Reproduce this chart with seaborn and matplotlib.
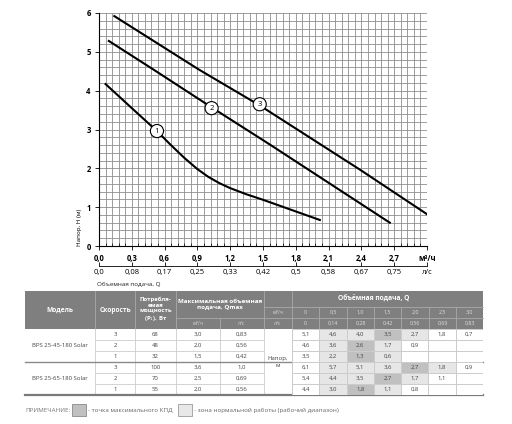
import numpy as np
import pandas as pd
import matplotlib
matplotlib.use("Agg")
import matplotlib.pyplot as plt
from matplotlib.patches import Rectangle
from matplotlib.colors import ListedColormap
import seaborn as sns

# pump curves: Q (m3/h) vs H (m)
q1 = [0.06, 0.30, 0.53, 0.65, 0.78, 0.90, 1.00, 1.10, 1.20, 1.35, 1.50, 1.65, 1.80, 1.92, 2.02]
h1 = [4.17, 3.55, 2.96, 2.62, 2.27, 1.98, 1.78, 1.62, 1.49, 1.33, 1.19, 1.04, 0.89, 0.77, 0.67]
q2 = [0.09, 0.50, 1.03, 1.57, 2.66]
h2 = [5.28, 4.54, 3.57, 2.60, 0.60]
q3 = [0.14, 0.91, 1.47, 2.39, 3.01]
h3 = [5.92, 4.55, 3.62, 1.96, 0.80]
curve_labels = ["1", "2", "3"]
label_q = [0.53, 1.03, 1.47]
label_h = [2.96, 3.55, 3.65]

xticks_m3h = [0.0, 0.3, 0.6, 0.9, 1.2, 1.5, 1.8, 2.1, 2.4, 2.7, 3.0]
xlabels_m3h = ["0,0", "0,3", "0,6", "0,9", "1,2", "1,5", "1,8", "2,1", "2,4", "2,7", "м³/ч"]
xlabels_ls = ["0,0", "0,08", "0,17", "0,25", "0,33", "0,42", "0,5", "0,58", "0,67", "0,75", "л/с"]

# table data
models = ["BPS 25-45-180 Solar", "BPS 25-65-180 Solar"]
speeds = ["3", "2", "1", "3", "2", "1"]
power = ["68", "48", "32", "100", "70", "55"]
qmax_m3h = ["3,0", "2,0", "1,5", "3,6", "2,5", "2,0"]
qmax_ls = ["0,83", "0,56", "0,42", "1,0", "0,69", "0,56"]
flow_m3h = ["0", "0,5", "1,0", "1,5", "2,0", "2,5", "3,0"]
flow_ls = ["0", "0,14", "0,28", "0,42", "0,56", "0,69", "0,83"]
heads = [
    ["5,1", "4,6", "4,0", "3,5", "2,7", "1,8", "0,7"],
    ["4,6", "3,6", "2,6", "1,7", "0,9", "", ""],
    ["3,5", "2,2", "1,3", "0,6", "", "", ""],
    ["6,1", "5,7", "5,1", "3,6", "2,7", "1,8", "0,9"],
    ["5,4", "4,4", "3,5", "2,7", "1,7", "1,1", ""],
    ["4,4", "3,0", "1,8", "1,1", "0,8", "", ""],
]
# 0 - plain, 1 - normal working zone, 2 - max efficiency point
zones = [
    [0, 1, 1, 2, 1, 0, 0],
    [0, 1, 2, 1, 0, 0, 0],
    [0, 1, 2, 1, 0, 0, 0],
    [0, 1, 1, 1, 2, 1, 0],
    [0, 1, 1, 2, 1, 0, 0],
    [0, 1, 2, 1, 0, 0, 0],
]

plt.rcParams["font.family"] = ["Open Sans", "DejaVu Sans"]

W, H = 512, 424
fig = plt.figure(figsize=(W / 100, H / 100), dpi=100)


def fx(px):
    return px / W


def fy(py):
    return 1 - py / H


# ---- overlay axes in pixel coords for the table ----
tax = fig.add_axes([0, 0, 1, 1])
tax.set_xlim(0, W)
tax.set_ylim(H, 0)
tax.axis("off")

# ---- chart ----
ax = fig.add_axes([fx(99), fy(246), (427 - 99) / W, (246 - 13) / H])
ax.set_xlim(0, 3.0)
ax.set_ylim(0, 6)
ax.set_xticks(np.linspace(0, 3, 51), minor=True)
ax.set_yticks(np.linspace(0, 6, 31), minor=True)
ax.set_xticks(xticks_m3h)
ax.set_xticklabels(xlabels_m3h)
ax.set_yticks(range(7))
ax.grid(which="both", color="#8e8e8e", lw=0.6)
ax.set_axisbelow(True)
for s in ["top", "right"]:
    ax.spines[s].set_visible(False)
ax.spines["left"].set_linewidth(0.8)
ax.spines["bottom"].set_linewidth(0.8)
ax.tick_params(which="major", labelsize=5.5, length=3, width=0.6, pad=3)
ax.tick_params(which="minor", axis="x", direction="in", length=2, width=0.5)
ax.tick_params(which="minor", axis="y", length=0)
for t in ax.get_xticklabels() + ax.get_yticklabels():
    t.set_fontweight("bold")
ax.set_ylabel("Напор, H (м)", loc="bottom", fontsize=4.5, labelpad=3)

for q, h in [(q1, h1), (q2, h2), (q3, h3)]:
    sns.lineplot(x=q, y=h, ax=ax, color="black", lw=1.5, sort=False)
for lab, q, h in zip(curve_labels, label_q, label_h):
    ax.text(q, h, lab, ha="center", va="center", fontsize=5.5, zorder=5,
            bbox=dict(boxstyle="circle,pad=0.4", fc="white", ec="black", lw=0.8))

sec = ax.secondary_xaxis(-0.086, functions=(lambda q: q / 3.6, lambda v: v * 3.6))
sec.set_xticks([v / 3.6 for v in xticks_m3h])
sec.set_xticklabels(xlabels_ls)
sec.tick_params(direction="in", length=3, width=0.6, labelsize=5.5, pad=2)
sec.spines["bottom"].set_linewidth(0.6)

fig.text(fx(97), fy(284), "Объемная подача, Q", fontsize=4.5, va="center", color="#222")

# ---- table ----
cols = [25, 95, 135, 176, 220, 264, 292, 319, 347, 374, 401, 429, 456, 483]
head_top, r1, r2, data_top = 291, 307, 318, 329
row_h = 11
data_bot = data_top + row_h * len(speeds)
hdr_col = "#7f7f7f"
sep_col = "#a9a9a9"
txt_col = "#444444"

tax.add_patch(Rectangle((cols[0], head_top), cols[-1] - cols[0], data_top - head_top,
                        fc=hdr_col, ec="none"))
for c in cols[1:-1]:
    top = head_top
    if c == cols[4]:
        top = r2
    elif c > cols[6]:
        top = r1
    tax.plot([c, c], [top, data_top], color=sep_col, lw=0.6)
tax.plot([cols[3], cols[5]], [r2, r2], color=sep_col, lw=0.6)
tax.plot([cols[5], cols[-1]], [r1, r1], color=sep_col, lw=0.6)
tax.plot([cols[5], cols[-1]], [r2, r2], color=sep_col, lw=0.6)


def cx(i):
    return (cols[i] + cols[i + 1]) / 2


hb = dict(color="white", fontweight="bold", ha="center", va="center")
tax.text(cx(0), (head_top + data_top) / 2, "Модель", fontsize=4.8, **hb)
tax.text(cx(1), (head_top + data_top) / 2, "Скорость", fontsize=4.8, **hb)
tax.text(cx(2), (head_top + data_top) / 2, "Потребля-\nемая\nмощность\n(P$_1$), Вт",
         fontsize=4.3, linespacing=1.15, **hb)
tax.text(cols[4], (head_top + r2) / 2, "Максимальная объемная\nподача, Qmax",
         fontsize=4.5, linespacing=1.2, **hb)
tax.text((cols[5] + cols[-1]) / 2, (head_top + r1) / 2, "Объёмная подача, Q",
         fontsize=4.8, **hb)
sub = dict(color="#e0e0e0", ha="center", va="center", fontsize=3.8)
tax.text(cx(3), (r2 + data_top) / 2, "м³/ч", **sub)
tax.text(cx(4), (r2 + data_top) / 2, "л/с", **sub)
tax.text(cx(5), (r1 + r2) / 2, "м³/ч", **sub)
tax.text(cx(5), (r2 + data_top) / 2, "л/с", **sub)
for j, (a, b) in enumerate(zip(flow_m3h, flow_ls)):
    tax.text(cx(6 + j), (r1 + r2) / 2, a, **sub)
    tax.text(cx(6 + j), (r2 + data_top) / 2, b, **sub)

# body lines
for i in range(1, len(speeds)):
    y = data_top + i * row_h
    if i == 3:
        continue
    tax.plot([cols[1], cols[5]], [y, y], color="#cccccc", lw=0.6)
for c in cols[1:7]:
    tax.plot([c, c], [data_top, data_bot], color="#cccccc", lw=0.6)

vals = dict(color=txt_col, ha="center", va="center", fontsize=4.3)
for i, m in enumerate(models):
    tax.text(cx(0), data_top + row_h * (3 * i + 1.5), m, **vals)
for i in range(len(speeds)):
    yc = data_top + row_h * (i + 0.5)
    tax.text(cx(1), yc, speeds[i], **vals)
    tax.text(cx(2), yc, power[i], **vals)
    tax.text(cx(3), yc, qmax_m3h[i], **vals)
    tax.text(cx(4), yc, qmax_ls[i], **vals)
tax.text(cx(5), (data_top + data_bot) / 2, "Напор,\nм", linespacing=1.3, **vals)

# head values as a heatmap
hax = fig.add_axes([fx(cols[6]), fy(data_bot), (cols[-1] - cols[6]) / W,
                    (data_bot - data_top) / H])
zone_df = pd.DataFrame(zones, columns=flow_m3h)
sns.heatmap(zone_df, ax=hax, cmap=ListedColormap(["white", "#e6e6e6", "#c0c0c0"]),
            vmin=-0.5, vmax=2.5, cbar=False, annot=np.array(heads), fmt="",
            annot_kws=dict(fontsize=4.3, color=txt_col),
            linewidths=0.6, linecolor="#cccccc")
hax.set_xticks([])
hax.set_yticks([])
hax.set_xlabel("")
hax.set_ylabel("")

mid = data_top + 3 * row_h
tax.plot([cols[0], cols[-1]], [mid, mid], color="#8a8a8a", lw=1.0, zorder=5)
tax.plot([cols[0], cols[-1]], [data_bot, data_bot], color="#7a7a7a", lw=1.6, zorder=5)

# note
tax.text(25, 410, "ПРИМЕЧАНИЕ:", color="#777777", fontsize=4.5, va="center")
tax.add_patch(Rectangle((72, 404), 14, 12, fc="#c0c0c0", ec="#8a8a8a", lw=0.6))
tax.text(88, 410, "- точка максимального КПД", color="#666666", fontsize=4.5, va="center")
tax.add_patch(Rectangle((178, 404), 14, 12, fc="#e8e8e8", ec="#9a9a9a", lw=0.6))
tax.text(194, 410, "- зона нормальной работы (рабочий диапазон)", color="#666666",
         fontsize=4.5, va="center")

fig.savefig("out.png", dpi=100)
